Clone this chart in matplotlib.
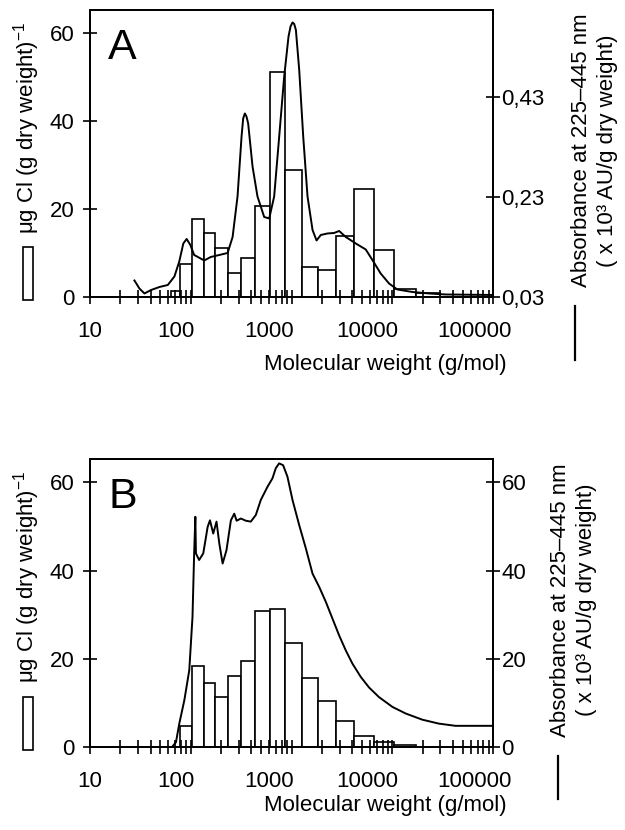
import numpy as np
import matplotlib
matplotlib.use("Agg")
import matplotlib.pyplot as plt
from matplotlib.ticker import FixedLocator, NullFormatter
from matplotlib.transforms import ScaledTranslation
from matplotlib.patches import Rectangle

plt.rcParams['font.family'] = ['Liberation Sans', 'DejaVu Sans']
plt.rcParams['mathtext.default'] = 'regular'

# molecular weight bin edges of the chlorine fractions (g/mol)
edges = [63.7, 78.7, 102, 134.6, 175.8, 233.9, 316, 433, 606, 863, 1262,
         1841, 2740, 4190, 6517, 10470, 17100, 30000]

# ug Cl per g dry weight in each bin
cl_a = [1.4, 7.5, 17.7, 14.6, 11.2, 5.5, 8.9, 20.8, 51.1, 29.0, 6.75, 6.2,
        13.9, 24.6, 10.7, 1.75, 1.0]
cl_b = [4.7, 18.3, 14.4, 11.3, 16.2, 19.6, 30.8, 31.4, 23.6, 15.6, 10.5,
        5.8, 2.5, 1.1, 0.45]          # panel B: edges[1] .. edges[16]

# absorbance traces
mw_a = [27.6, 30.9, 34.7, 40.4, 49, 59.2, 68.8, 76.9, 84.3, 91, 99, 108, 136,
        158, 192, 232, 260, 291, 319, 331, 344, 357, 371, 410, 459, 535, 600,
        672, 754, 845, 933, 977, 1022, 1062, 1104, 1191, 1305, 1440, 1615,
        1770, 1951, 2270, 2643, 2965, 3451, 4335, 5446, 6340, 7660, 9270,
        11200, 15780, 23070, 33730, 100000]
abs_a = [0.063, 0.047, 0.037, 0.044, 0.050, 0.054, 0.071, 0.101, 0.137,
         0.146, 0.134, 0.114, 0.103, 0.110, 0.114, 0.118, 0.150, 0.231, 0.351,
         0.387, 0.397, 0.391, 0.377, 0.291, 0.231, 0.190, 0.187, 0.231, 0.351,
         0.471, 0.551, 0.571, 0.579, 0.576, 0.564, 0.484, 0.351, 0.231, 0.164,
         0.143, 0.154, 0.157, 0.158, 0.162, 0.150, 0.137, 0.125, 0.104, 0.077,
         0.057, 0.045, 0.040, 0.037, 0.035, 0.034]

mw_b = [66, 71.3, 76.9, 86.3, 96.6, 104, 108, 111, 112.5, 121, 133, 147, 155,
        167, 180, 192, 207, 226, 250, 270, 285, 314, 352, 394, 442, 495, 577,
        646, 697, 752, 824, 910, 1022, 1191, 1387, 1615, 1880, 2188, 2547,
        2965, 3451, 4018, 4857, 5870, 7380, 10000, 13550, 19800, 28960,
        42360, 100000]
abs_b = [0.15, 1.1, 5.3, 10.6, 17.4, 29.5, 43.9, 52.2, 43.9, 42.4, 43.9, 49.9,
         51.4, 48.4, 51.1, 46.1, 41.6, 44.6, 51.4, 52.9, 51.3, 51.8, 51.3,
         51.1, 52.6, 56.0, 59.0, 60.9, 63.2, 64.3, 63.9, 61.3, 56.0, 50.3,
         45.0, 39.3, 36.3, 32.9, 29.1, 25.3, 21.9, 18.9, 15.9, 13.5, 11.3, 9.1,
         7.6, 6.2, 5.3, 4.8, 4.8]

xticks = [10, 100, 1000, 10000, 100000]
xticklabels = ['10', '100', '1000', '10000', '100000']
minor = [m * 10 ** d for d in range(1, 5) for m in range(2, 10)]

FS = 16
fig = plt.figure(figsize=(6.25, 8.3), dpi=100)


def make_panel(rect, bin_edges, heights, mw, absorb, rlim, rticks, rlabels,
               letter, xlab_y, rlab_x, dash_x, dash_len):
    ax = fig.add_axes(rect)
    ax2 = ax.twinx()
    bin_edges = np.array(bin_edges)
    ax.bar(bin_edges[:-1], heights, width=np.diff(bin_edges), align='edge',
           facecolor='white', edgecolor='black', linewidth=1.2)
    ax2.plot(mw, absorb, color='black', linewidth=1.4)

    ax.set_xscale('log')
    ax.set_xlim(10, 100000)
    ax.set_ylim(0, 65.3)
    ax.set_yticks([0, 20, 40, 60])
    ax.xaxis.set_major_locator(FixedLocator(xticks))
    ax.set_xticklabels(xticklabels)
    ax.xaxis.set_minor_locator(FixedLocator(minor))
    ax.xaxis.set_minor_formatter(NullFormatter())
    ax.tick_params(axis='x', which='both', direction='inout', length=10,
                   width=1.2, pad=12, labelsize=FS, top=False)
    ax.tick_params(axis='y', direction='inout', length=10, width=1.2, pad=6,
                   labelsize=FS)
    ax2.set_ylim(*rlim)
    ax2.set_yticks(rticks)
    ax2.set_yticklabels(rlabels)
    ax2.tick_params(axis='y', direction='inout', length=10, width=1.2, pad=1,
                    labelsize=FS)
    for a in (ax, ax2):
        for s in a.spines.values():
            s.set_linewidth(1.3)

    # tick labels in the original sit slightly left of their ticks
    for lab, dx in zip(ax.get_xticklabels(), [0, -15, -22, -25, -19]):
        lab.set_transform(lab.get_transform() +
                          ScaledTranslation(dx / 100, 0, fig.dpi_scale_trans))

    ax.set_xlabel('Molecular weight (g/mol)', fontsize=FS)
    ax.xaxis.set_label_coords(0.732, xlab_y)

    ax.text(0.045, 0.83, letter, transform=ax.transAxes, fontsize=31,
            ha='left', va='baseline')

    # left label with the open-bar symbol
    ax.text(-0.158, 0.59, 'μg Cl (g dry weight)$^{-1}$', transform=ax.transAxes,
            rotation=90, ha='center', va='center', fontsize=FS)
    ax.add_patch(Rectangle((-0.166, -0.01), 0.025, 0.185, transform=ax.transAxes,
                           facecolor='white', edgecolor='black', linewidth=1.2,
                           clip_on=False))

    # right label with the line symbol
    ax.text(rlab_x, 0.51, 'Absorbance at 225–445 nm\n( x 10³ AU/g dry weight)',
            transform=ax.transAxes, rotation=90, ha='center', va='center',
            multialignment='center', fontsize=FS, linespacing=1.3)
    ax.plot([dash_x, dash_x], [-0.03, -0.03 - dash_len], transform=ax.transAxes,
            color='black', linewidth=1.6, clip_on=False)
    return ax


make_panel([0.144, 0.6422, 0.645, 0.3458], edges, cl_a, mw_a, abs_a,
           (0.03, 0.604), [0.03, 0.23, 0.43], ['0,03', '0,23', '0,43'],
           'A', -0.199, 1.252, 1.203, 0.19)
make_panel([0.144, 0.1, 0.645, 0.347], edges[1:-1], cl_b, mw_b, abs_b,
           (0, 65.3), [0, 20, 40, 60], ['0', '20', '40', '60'],
           'B', -0.165, 1.2, 1.161, 0.15)

fig.savefig('out.png', dpi=100)
